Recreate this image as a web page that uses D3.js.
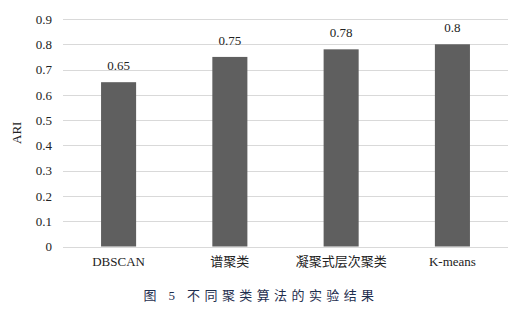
<!DOCTYPE html>
<html>
<head>
<meta charset="utf-8">
<script src="https://cdn.jsdelivr.net/npm/d3@7"></script>
<style>
  body { margin: 0; background: #fff; }
  svg { display: block; }
</style>
</head>
<body>
<svg id="chart" width="517" height="310"></svg>
<script>
const categories = ["DBSCAN", "谱聚类", "凝聚式层次聚类", "K-means"];
const ariValues = [0.65, 0.75, 0.78, 0.8];
const yTicks = [0, 0.1, 0.2, 0.3, 0.4, 0.5, 0.6, 0.7, 0.8, 0.9];

const serif = "'Liberation Serif', 'Times New Roman', 'Noto Sans CJK SC', serif";
const cjk = "'Liberation Serif', 'Noto Sans CJK SC', serif";

const svg = d3.select("#chart");
const margin = { left: 63, right: 9, top: 19, bottom: 64 };
const width = 517, height = 310;

const x = d3.scaleBand()
    .domain(categories)
    .range([margin.left, width - margin.right])
    .paddingInner(0.685)
    .paddingOuter(0.342);

const y = d3.scaleLinear()
    .domain([0, 0.9])
    .range([height - margin.bottom + 0.5, margin.top]);

// grid lines
svg.append("g")
    .selectAll("line")
    .data(yTicks)
    .join("line")
    .attr("x1", margin.left)
    .attr("x2", width - margin.right)
    .attr("y1", d => Math.round(y(d)) + 0.5)
    .attr("y2", d => Math.round(y(d)) + 0.5)
    .attr("stroke", "#d9d9d9")
    .attr("stroke-width", 1);

// y axis labels
const yAxis = d3.axisLeft(y)
    .tickValues(yTicks)
    .tickSize(0)
    .tickPadding(0)
    .tickFormat(d => d === 0 ? "0" : d3.format(".1f")(d));

svg.append("g")
    .attr("transform", `translate(${margin.left - 11},0)`)
    .call(yAxis)
    .call(g => g.select(".domain").remove())
    .attr("font-family", serif)
    .selectAll("text")
    .attr("font-family", serif)
    .attr("font-size", 13)
    .attr("fill", "#222");

// bars
svg.append("g")
    .selectAll("rect")
    .data(categories)
    .join("rect")
    .attr("x", d => x(d))
    .attr("width", x.bandwidth())
    .attr("y", (d, i) => y(ariValues[i]))
    .attr("height", (d, i) => y(0) - y(ariValues[i]))
    .attr("fill", "#5f5f5f");

// value labels
svg.append("g")
    .selectAll("text")
    .data(categories)
    .join("text")
    .attr("x", d => x(d) + x.bandwidth() / 2)
    .attr("y", (d, i) => y(ariValues[i]) - 12)
    .attr("text-anchor", "middle")
    .attr("font-family", serif)
    .attr("font-size", 13)
    .attr("fill", "#222")
    .text((d, i) => String(ariValues[i]));

// category labels
const xAxis = d3.axisBottom(x).tickSize(0).tickPadding(0);
svg.append("g")
    .attr("transform", `translate(0,${y(0) + 10})`)
    .call(xAxis)
    .call(g => g.select(".domain").remove())
    .attr("font-family", cjk)
    .selectAll("text")
    .attr("font-family", cjk)
    .attr("font-size", 13)
    .attr("fill", "#222");

// y axis title
svg.append("text")
    .attr("transform", `translate(21,${(y(0) + y(0.9)) / 2}) rotate(-90)`)
    .attr("text-anchor", "middle")
    .attr("font-family", serif)
    .attr("font-size", 13)
    .attr("fill", "#222")
    .text("ARI");

// caption
svg.append("text")
    .attr("x", 261)
    .attr("y", 300)
    .attr("text-anchor", "middle")
    .attr("font-family", cjk)
    .attr("font-size", 13)
    .attr("letter-spacing", 4.4)
    .attr("fill", "#1f2f4f")
    .text("图 5  不同聚类算法的实验结果");
</script>
</body>
</html>
